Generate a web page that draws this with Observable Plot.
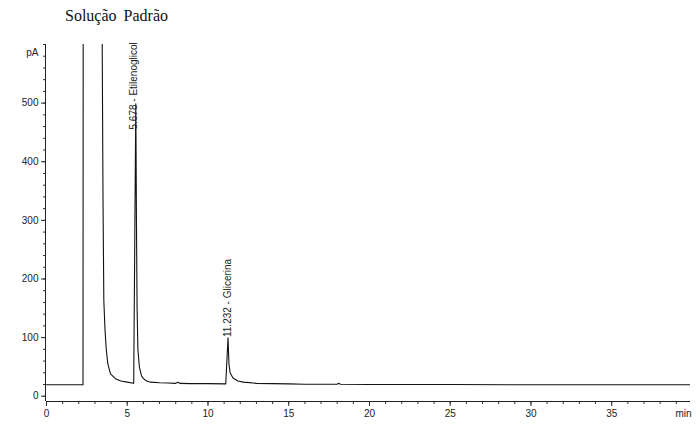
<!DOCTYPE html>
<html>
<head>
<meta charset="utf-8">
<script src="https://cdn.jsdelivr.net/npm/d3@7"></script>
<script src="https://cdn.jsdelivr.net/npm/@observablehq/plot@0.6"></script>
<style>
  html, body { margin: 0; padding: 0; background: #fff; }
  #wrap { position: relative; width: 700px; height: 437px; }
  #title { position: absolute; left: 65px; top: 8px; font-family: "Liberation Serif", "Times New Roman", serif; font-size: 16px; line-height: 16px; color: #111; word-spacing: 3px; }
</style>
</head>
<body>
<div id="wrap"><div id="title">Solução Padrão</div></div>
<script>
// Chromatogram trace: retention time (min) and detector signal (pA); off-scale solvent peak drawn past the top
const times  = [0, 1, 2.26, 2.28, 3.43, 3.45, 3.50, 3.55, 3.62, 3.70, 3.80, 3.96, 4.27, 4.6, 5.0, 5.40, 5.53, 5.57, 5.61, 5.66, 5.75, 5.88, 6.0, 6.2, 6.45, 7.0, 7.5, 8.0, 8.15, 8.25, 9.0, 10.0, 11.10, 11.24, 11.30, 11.37, 11.55, 11.85, 12.2, 13, 14, 15, 16, 18.0, 18.1, 18.2, 20, 25, 30, 35, 39.88];
const signal = [19.5, 19.5, 19.5, 1000, 1000, 600, 333, 163, 115, 80, 55, 38, 30, 26, 24, 22, 499, 300, 150, 80, 50, 35, 30, 26, 24, 23, 22.5, 22, 24, 22, 21.5, 21.5, 21, 99.5, 55, 40, 31, 26, 24, 22, 21.5, 21, 20.5, 20.5, 22, 20.5, 20, 20, 19.5, 19.5, 19.5];

// Peak annotations
const peakTimes  = [5.38, 11.22];
const peakLabelY = [455, 101];
const peakNames  = ["5.678 - Etilenoglicol", "11.232 - Glicerina"];

// Axes
const xMajorTicks = [0, 5, 10, 15, 20, 25, 30, 35];
const xMinorTicks = d3.range(0, 40, 1);
const yMajorTicks = [0, 100, 200, 300, 400, 500];
const yMinorTicks = d3.range(0, 601, 20);
const xUnit = "min";
const yUnit = "pA";
const xMax = 39.88, yMin = -9, yMax = 600;

const trace = times.map((t, i) => ({t, v: signal[i]}));
const peaks = peakTimes.map((t, i) => ({t, y: peakLabelY[i], name: peakNames[i]}));

const chart = Plot.plot({
  width: 700,
  height: 437,
  marginLeft: 46,
  marginRight: 10,
  marginTop: 44,
  marginBottom: 36,
  x: {domain: [0, xMax]},
  y: {domain: [yMin, yMax]},
  style: {fontFamily: "'Liberation Sans', Arial, sans-serif", fontSize: "10px", color: "#222", background: "transparent"},
  marks: [
    Plot.axisY(yMinorTicks, {tickSize: 3, tickFormat: () => "", label: null, stroke: "#333"}),
    Plot.axisY(yMajorTicks, {tickSize: 5, tickPadding: 3, label: null, stroke: "#333", fill: "#222"}),
    Plot.axisX(xMinorTicks, {tickSize: 3, tickFormat: () => "", label: null, stroke: "#333"}),
    Plot.axisX(xMajorTicks, {tickSize: 5, tickPadding: 3, label: null, stroke: "#333", fill: "#222"}),
    Plot.ruleX([0], {y1: yMin, y2: yMax, stroke: "#222", dx: -1}),
    Plot.ruleY([yMin], {stroke: "#222"}),
    Plot.text([yUnit], {x: 0, y: 585, text: d => d, textAnchor: "end", dx: -8, fill: "#222"}),
    Plot.text([xUnit], {x: xMax, y: yMin, text: d => d, textAnchor: "end", dy: 12, dx: 1, fill: "#222"}),
    Plot.line(trace, {x: "t", y: "v", stroke: "#111", strokeWidth: 1.1, clip: true}),
    Plot.text(peaks, {x: "t", y: "y", text: "name", rotate: -90, textAnchor: "start", fontSize: 10, fill: "#222"})
  ]
});
document.getElementById("wrap").appendChild(chart);
chart.style.position = "absolute";
chart.style.left = "0";
chart.style.top = "0";
</script>
</body>
</html>
